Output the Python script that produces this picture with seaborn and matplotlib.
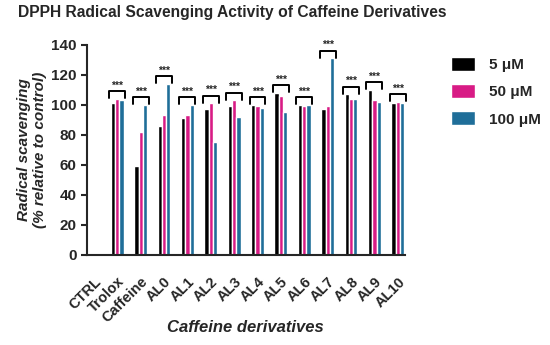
import matplotlib
matplotlib.use('Agg')

import matplotlib.pyplot as plt
import pandas as pd
import seaborn as sns
import numpy as np

# Data
categories = ["CTRL", "Trolox", "Caffeine", "AL0", "AL1", "AL2", "AL3",
              "AL4", "AL5", "AL6", "AL7", "AL8", "AL9", "AL10"]
conc_labels = ["5 μM", "50 μM", "100 μM"]
vals_5 = [np.nan, 101, 59, 86, 91, 97, 99, 100, 108, 100, 97, 107, 110, 101]
vals_50 = [np.nan, 104, 82, 93, 93, 101, 103, 99, 106, 99, 99, 104, 103, 102]
vals_100 = [np.nan, 103, 100, 114, 100, 75, 92, 98, 95, 100, 131, 104, 102, 101]
sig_labels = ["", "***", "***", "***", "***", "***", "***",
              "***", "***", "***", "***", "***", "***", "***"]

colors = ["#000000", "#D81B85", "#1F6E99"]

rows = []
for lab, vals in zip(conc_labels, [vals_5, vals_50, vals_100]):
    for cat, v in zip(categories, vals):
        rows.append({"cat": cat, "conc": lab, "val": v})
df = pd.DataFrame(rows)

sns.set_style("ticks")
plt.rcParams['font.family'] = ['Liberation Sans', 'DejaVu Sans']

fig = plt.figure(figsize=(5.5, 3.45), dpi=100)
ax = fig.add_axes([0.158, 0.261, 0.578, 0.609])

sns.barplot(data=df, x="cat", y="val", hue="conc", order=categories,
            hue_order=conc_labels, palette=colors, width=0.55,
            saturation=1, errorbar=None, ax=ax, legend=True)

# significance brackets
for i, cat in enumerate(categories):
    if not sig_labels[i]:
        continue
    top = np.nanmax([vals_5[i], vals_50[i], vals_100[i]]) + 5
    x0, x1 = i - 0.34, i + 0.34
    ax.plot([x0, x0, x1, x1], [top - 4.5, top, top, top - 4.5],
            color="black", lw=1.4, clip_on=False)
    ax.text(i, top + 0.5, sig_labels[i], ha="center", va="bottom",
            fontsize=7.5, fontweight="bold")

ax.set_xlim(-0.3, 13.3)
ax.set_ylim(0, 140)
ax.set_yticks(range(0, 141, 20))
sns.despine(ax=ax)
for s in ["left", "bottom"]:
    ax.spines[s].set_linewidth(1.5)
ax.tick_params(axis="both", width=1.5, length=4, labelsize=11)
for t in ax.get_yticklabels():
    t.set_fontweight("bold")
ax.set_xticks(range(len(categories)))
ax.set_xticklabels(categories, rotation=45, ha="right",
                   rotation_mode="anchor", fontweight="bold", fontsize=10.5)
ax.tick_params(axis="x", length=0, pad=14)

ax.set_ylabel("Radical scavenging\n(% relative to control)",
              fontsize=11, fontweight="bold", style="italic", labelpad=3)
ax.set_xlabel("Caffeine derivatives", fontsize=12, fontweight="bold",
              style="italic")
ax.xaxis.set_label_coords(0.5, -0.31)

handles, labels = ax.get_legend_handles_labels()
ax.legend_.remove()
fig.legend(handles, labels, loc="upper left", bbox_to_anchor=(0.795, 0.875),
           frameon=False, prop={"weight": "bold", "size": 11},
           handlelength=1.6, handleheight=1.0, labelspacing=0.8,
           handletextpad=0.9)

fig.text(0.033, 0.965, "DPPH Radical Scavenging Activity of Caffeine Derivatives",
         fontsize=11.25, fontweight="bold", ha="left", va="center")

fig.savefig("out.png", dpi=100)
